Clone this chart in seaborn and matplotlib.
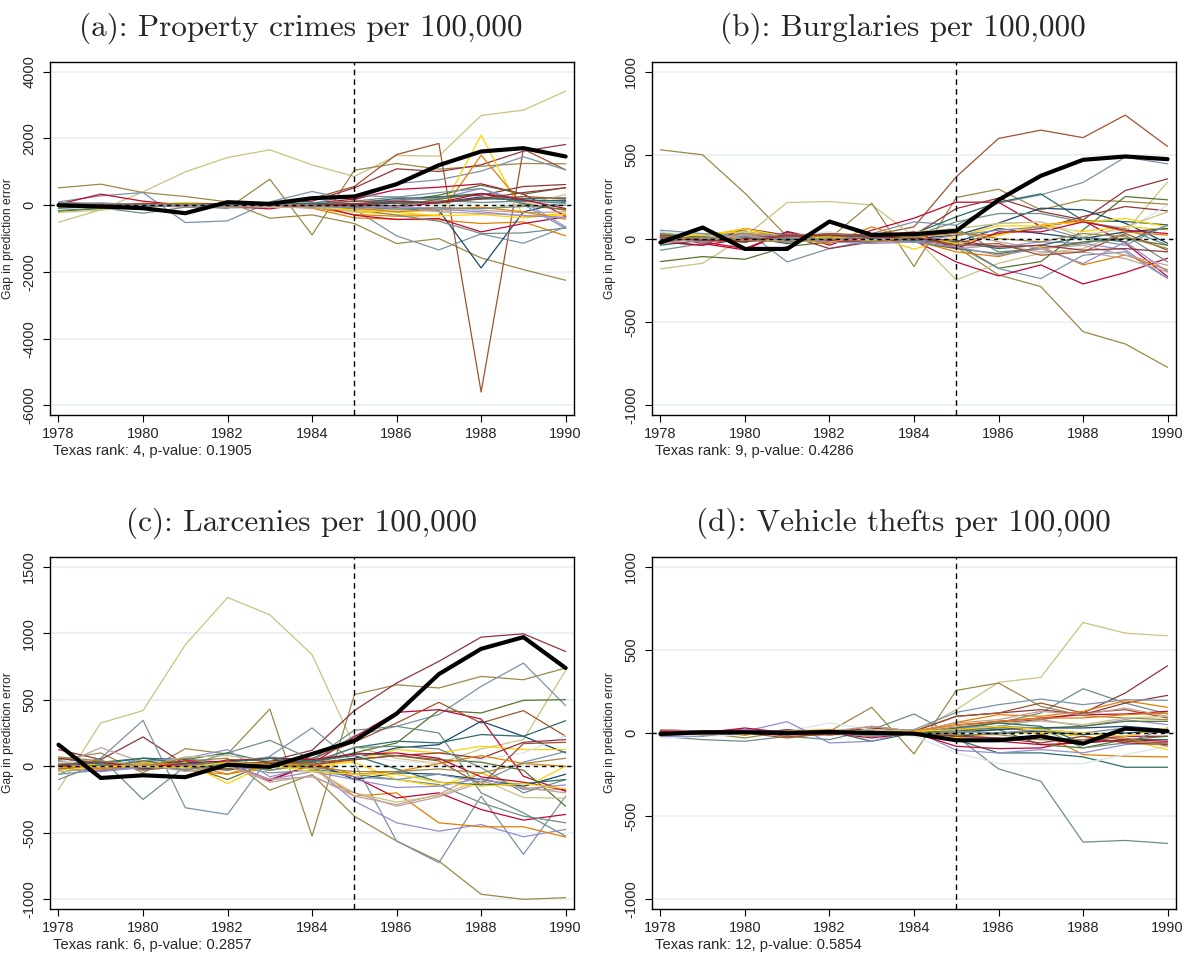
import pandas as pd
import seaborn as sns
import matplotlib.pyplot as plt

years = list(range(1978, 1991))

# Stata s2color palette
navy, maroon, forest, dkorange = "#1a476f", "#90353b", "#55752f", "#e37e00"
teal, cranberry, lavender, khaki = "#6e8e84", "#c10534", "#938dd2", "#cac27e"
sienna, emidblue, emerald, brown = "#a0522d", "#7b92a8", "#2d6d66", "#9c8847"
erose, gold, bluishgray = "#bfa19c", "#ffd200", "#d9e6eb"

# --- (a) property crimes ---
texas_prop = [0, -40, -90, -240, 90, 40, 210, 260, 630, 1200, 1610, 1710, 1460]
placebo_prop = [
    [-510, -140, 400, 1000, 1430, 1660, 1210, 860, 1490, 1470, 2690, 2850, 3420],
    [520, 630, 380, 260, 100, -390, -290, -550, -1150, -1000, -1580, -1930, -2250],
    [-20, 30, 10, 0, -100, 780, -890, 1050, 1250, 1080, 1170, 1250, 1240],
    [20, -40, 0, 30, 50, 60, 200, 560, 1520, 1850, -5600, 1680, 1060],
    [0, 30, -20, 10, 40, 60, 120, 520, 1090, 1010, 1210, 1620, 1820],
    [100, 280, 380, -520, -470, 100, 410, 150, 650, 760, 1020, 1450, 1060],
    [-60, 40, 0, -60, -80, -60, 30, -120, -920, -1340, -860, -1140, -650],
    [30, 20, 60, 40, 20, -30, -60, -200, -280, -290, 2100, -330, -250],
    [-20, 40, 20, 60, 40, 10, -60, -280, -330, -310, 1500, -20, -120],
    [10, 0, -30, 20, -40, -20, -90, -380, -420, -440, -550, -500, -920],
    [-30, 20, 40, -10, 20, 10, 40, -40, -100, -150, -1880, -200, 100],
    [30, 330, 120, 0, -40, -110, 60, 180, 470, 540, 640, 330, -330],
    [-40, -20, 10, 30, -20, 10, 30, -300, -430, -400, -800, -550, -350],
    [-160, -80, -240, -60, -30, -40, 20, -120, -300, -480, -850, -830, -680],
    [20, 60, 20, -10, 30, 0, 40, 100, 150, 240, 300, 560, 620],
    [-180, -100, 0, 30, -50, 20, 0, 60, 120, 300, 600, 330, 530],
    [50, 0, -20, 30, 20, -20, -10, 80, 140, 200, 500, 100, -650],
    [20, -30, 50, 0, 10, -10, 30, 60, 200, 250, 350, 200, 220],
    [-50, 0, 40, -20, -10, -60, -80, -150, -100, -60, -150, -220, -200],
    [60, 30, 20, 50, 0, 10, 50, 90, 30, 0, 80, 60, 40],
    [40, -20, 10, 0, -30, 20, 10, 20, 60, 80, 250, 120, 150],
    [0, 50, -10, 20, 30, -20, 60, 120, 250, 150, 80, 130, 60],
    [-220, -150, -30, 40, 20, -60, -20, -200, -170, -180, -100, 20, 320],
    [60, 20, -40, 10, -20, 30, -20, 40, -20, 180, 350, 50, -150],
    [-80, 10, 30, 80, 10, -40, -10, -150, -210, -320, -280, -380, -280],
    [-10, 40, -20, 10, 60, -30, 20, 120, 60, 100, 180, 260, 190],
    [80, 60, 20, -20, 20, 40, 60, 300, 240, 380, 500, 20, -700],
    [-90, -40, -20, -30, 40, 30, 60, 0, 100, 60, 200, 160, 120],
    [40, 10, 0, -40, -20, 30, 10, -80, -200, -120, -60, -200, -420],
    [10, -60, 30, 20, 0, -20, -40, 20, -60, 80, 350, 160, -100],
    [0, -40, -20, 20, -60, -40, 10, -80, -40, -200, -250, -300, -380],
    [-40, 0, 40, 30, 50, -10, 0, 40, 120, 80, 200, 380, 520],
    [30, -20, 0, -30, 10, 30, -40, -70, -30, -120, -200, -320, -360],
    [20, -10, 10, 40, -10, 0, -30, -60, -120, -80, -100, -40, 0],
]
colors_prop = [khaki, brown, brown, sienna, maroon, emidblue, emidblue, gold,
               dkorange, dkorange, navy, cranberry, cranberry, teal, maroon,
               forest, lavender, emerald, erose, bluishgray, navy, teal, khaki,
               forest, gold, sienna, emidblue, emerald, dkorange, cranberry,
               erose, maroon, lavender, teal]

# --- (b) burglaries ---
texas_burg = [-24, 66, -62, -62, 102, 22, 26, 46, 232, 376, 472, 492, 476]
placebo_burg = [
    [0, -10, 20, 10, 0, 20, 70, 370, 600, 650, 605, 740, 552],
    [532, 502, 272, 12, 0, -20, 0, -50, -218, -288, -558, -632, -772],
    [-182, -148, 12, 216, 222, 202, 12, -248, -148, -88, -60, 40, 340],
    [10, -20, 30, 0, 0, 212, -168, 246, 296, 172, 232, 222, 206],
    [-138, -108, -124, -48, -20, -10, -20, -30, -178, -138, 52, 252, 232],
    [20, 10, 30, 20, 10, 30, 100, 80, 212, 262, 336, 488, 448],
    [40, 0, 50, -140, -60, -10, 10, -40, -180, -240, -100, -80, -240],
    [30, -10, 20, 0, -20, 10, 30, 130, 218, 268, 108, 102, 82],
    [10, -20, -60, 40, -40, 50, 122, 218, 218, 72, 108, -28, -228],
    [20, -30, -68, 42, -10, -20, -10, -140, -224, -158, -272, -204, -118],
    [-20, -40, 60, 20, -60, -20, 20, 180, 242, 162, 112, 288, 358],
    [0, 20, 10, -10, 20, 0, -20, -30, 30, 60, 132, 192, 166],
    [10, 0, -20, 10, 0, -10, 0, 20, 92, 182, 172, 92, -28],
    [-10, 20, 0, -20, 30, 10, -10, -40, -50, -20, -28, -68, -238],
    [-30, 10, 60, 0, -30, 70, -10, -80, -108, -48, -158, -98, -188],
    [30, 20, 58, 10, -20, 20, -64, 12, 76, 76, 42, 72, 52],
    [-70, -30, 40, 10, 30, 0, 20, 100, 150, 150, 100, 60, -40],
    [10, 30, -20, 0, 10, -20, -20, -60, -40, -80, -80, -120, -200],
    [40, 20, 0, 20, 40, 0, 10, 60, 90, 100, 30, 50, 200],
    [-20, 0, 10, -30, 10, 20, 0, -20, 60, 30, 0, 40, 60],
    [30, 10, -20, 30, 0, -10, 30, 60, -80, -60, -30, 20, -140],
    [-40, -10, 10, -10, 20, 0, -10, -20, -60, -40, 10, -20, 80],
    [10, 20, 0, -20, -10, 20, 40, 60, 90, 100, 10, 70, 160],
    [0, -20, 20, 10, 20, -10, 10, 30, 20, 80, 110, 40, 20],
    [20, 10, -10, 0, -10, 20, -20, -60, -90, -60, -20, 0, -40],
    [-10, 30, 40, 0, 10, -10, 20, -30, 20, 80, 100, 120, 70],
    [-20, -40, 0, 20, -10, 10, 40, -60, 40, 40, 100, 50, 30],
    [0, -20, 30, 10, -20, -30, -20, -50, -100, -60, -150, -20, -200],
    [20, -10, -20, 10, 30, 20, 0, -40, -30, -100, -80, 30, -70],
    [50, 30, 10, 0, 0, 10, -20, 20, 50, 70, 0, -40, 80],
    [-30, 0, 20, -20, 0, -10, 10, 40, -20, -60, -40, -100, -160],
    [10, -10, -20, 20, 20, 10, 0, -10, -50, -40, -70, -60, -80],
    [-10, 10, -10, -20, 0, -20, 10, 40, 0, -20, 30, 10, -60],
]
colors_burg = [sienna, brown, khaki, brown, forest, emidblue, emidblue, emerald,
               cranberry, cranberry, maroon, maroon, navy, lavender, dkorange,
               gold, teal, erose, bluishgray, navy, teal, emerald, khaki,
               dkorange, forest, gold, cranberry, lavender, sienna, emidblue,
               erose, maroon, brown]

# --- (c) larcenies ---
texas_larc = [162, -88, -68, -82, 12, -5, 92, 192, 395, 692, 882, 970, 738]
placebo_larc = [
    [-175, 325, 418, 912, 1268, 1138, 838, 150, 60, 20, 130, 200, 720],
    [50, 100, -50, 132, 92, 430, -525, 538, 612, 588, 675, 650, 738],
    [60, 30, 20, 40, 60, -180, -62, -375, -562, -712, -962, -1000, -988],
    [125, 50, 220, 12, -20, 40, 120, 418, 625, 788, 970, 995, 862],
    [-30, 60, 345, -312, -362, 75, 288, 25, -562, -725, -225, -662, -225],
    [20, -20, 60, 50, 30, 70, 40, 230, 300, 388, 600, 775, 455],
    [0, 30, -20, 10, -100, 30, 20, 100, 175, 420, 400, 495, 500],
    [40, -30, 0, 40, 30, -110, 20, 220, 405, 425, 355, -75, -188],
    [-20, 20, 10, -30, 50, 40, 60, 180, 325, 480, 325, 418, 225],
    [-62, 62, -250, 0, 100, 195, 50, 270, 300, 250, -200, -350, -525],
    [20, -10, 30, -20, 10, -30, 20, 60, 138, 162, 338, 225, 100],
    [-10, 20, 60, 50, 100, 30, 30, 140, 188, 175, 238, 225, 342],
    [10, 0, 40, 60, 125, -80, 0, -262, -425, -488, -438, -530, -475],
    [30, 0, 10, -30, -60, 40, 0, -225, -200, -425, -455, -455, -532],
    [-20, -40, 20, 30, 20, -100, 10, -80, -238, -200, -325, -405, -362],
    [40, 20, 0, -20, 30, 10, -20, -60, -100, -138, -275, -375, -425],
    [0, 140, 30, -20, 10, -120, -70, -225, -288, -212, -50, -175, -175],
    [-10, 20, 0, 30, -130, 20, -20, 45, 125, 100, 150, 125, 125],
    [10, -20, 30, 0, 20, -30, 10, 30, -100, -150, -50, -162, 0],
    [30, 40, 10, 0, 20, -10, 20, 80, 40, 20, 50, 100, 230],
    [-30, 10, -20, 20, 0, 40, 30, -100, -50, -60, -100, -150, -60],
    [60, 20, -10, 0, -30, 20, 10, 50, 80, 100, 60, 180, 200],
    [20, -10, 40, 10, -20, -10, 30, 100, 80, 50, 30, -30, -300],
    [-40, -20, 0, 70, 80, 40, -20, -200, -270, -220, -100, -235, -240],
    [10, 40, -30, 0, 20, 30, 30, 50, 80, 40, -140, 170, 180],
    [-60, -30, 0, 10, 10, -50, -30, -80, -100, -60, -120, 30, 110],
    [0, -20, 10, 20, -60, 0, 20, -60, -40, 20, 80, 20, 0],
    [-100, 20, 0, -30, 20, -30, 20, 140, 150, 130, -10, -200, -100],
    [0, 30, -10, 20, 40, 60, 50, 90, 100, 60, -80, -120, -180],
    [-20, -40, -10, 0, 20, -100, -40, -100, -160, -150, -90, -170, -140],
    [20, -10, 20, -40, 0, -100, -80, -200, -300, -230, -120, -160, -200],
    [10, 30, 60, 20, 30, 60, 40, 80, -20, -120, -140, -130, -100],
    [70, 40, 0, 60, 0, 10, -10, -40, -40, -20, -50, 20, 60],
    [-30, 0, 0, -10, 30, 10, -40, -60, -60, -120, -150, -130, -170],
]
colors_larc = [khaki, brown, brown, maroon, emidblue, emidblue, forest,
               cranberry, sienna, teal, navy, emerald, lavender, dkorange,
               cranberry, teal, erose, gold, gold, bluishgray, navy, maroon,
               forest, khaki, sienna, emidblue, dkorange, teal, cranberry,
               lavender, erose, emerald, brown, gold]

# --- (d) vehicle thefts ---
texas_veh = [-6, 4, 4, 0, 6, 0, -4, -44, -44, -20, -64, 26, 10]
placebo_veh = [
    [0, 10, -10, 20, 10, 0, 0, 140, 304, 334, 664, 600, 584],
    [10, 0, -30, 10, 10, 154, -126, 256, 300, 160, 104, 90, 80],
    [-20, -40, -50, -20, -40, 20, 114, -20, -216, -290, -656, -646, -664],
    [10, 0, 20, 10, -10, 0, 10, 20, 60, 120, 266, 180, 114],
    [0, 10, 20, -10, 0, 10, 0, 40, 60, 80, 120, 240, 404],
    [10, 0, -10, 20, 0, 30, 10, 100, 120, 140, 110, 180, 226],
    [-20, 0, 10, 0, 0, 10, 20, 124, 170, 204, 170, 200, 196],
    [20, 10, 0, -30, 0, 40, 10, 100, 120, 180, 120, 140, 90],
    [0, 10, 0, 10, 20, 0, 0, 64, 110, 100, 130, 194, 154],
    [10, -10, 10, 0, -10, -10, 10, 10, 40, 0, -130, -140, -144],
    [0, 10, 0, -10, 10, -50, 0, -40, -120, -120, -144, -206, -206],
    [-30, -20, -10, 10, 60, 20, -20, -120, -184, -184, -184, -130, -80],
    [-20, -20, 10, 68, -60, -50, 16, -104, -120, -100, -120, -70, -60],
    [10, 0, 20, 0, 10, -10, 0, 30, 40, 80, 40, 80, 50],
    [10, 0, 30, 0, 0, -30, 0, -80, -94, -90, -40, -20, -20],
    [0, 10, 0, 10, 0, 0, 10, 40, 70, 90, 110, 114, 130],
    [0, 0, 10, 0, -10, 0, 0, -30, 0, 0, -20, -40, -100],
    [10, 0, -10, 0, 10, -20, 0, 0, 20, -70, -90, -40, -20],
    [-10, 10, 0, 10, 0, 10, 0, 20, 30, 30, 40, 70, 70],
    [0, 0, 10, 0, 0, 0, 0, 10, 20, 30, 30, 40, 20],
    [20, 10, 0, -10, 10, 40, 10, 60, 80, 130, 110, 150, 100],
    [-10, 0, -10, 0, 10, -10, 0, -20, 0, 10, -10, 0, 10],
    [0, 10, 0, 10, -10, 0, 0, 0, 40, 30, -90, -60, 30],
    [10, 0, 10, -20, -10, 0, 0, -20, -30, -40, -40, -50, -60],
    [0, -10, 0, 10, 0, 20, 10, 40, 60, 70, 50, 90, 100],
    [-10, 0, 0, 0, -10, 0, 10, -20, -30, -60, -20, -60, -70],
    [10, 0, -10, 10, 0, -20, 0, 10, 0, 20, 0, 30, 10],
    [0, -10, 10, -10, 0, 10, -10, 30, 60, 40, -60, -40, -40],
    [-10, 10, 0, 0, 10, -10, 10, 50, 70, 90, 90, 110, 120],
    [10, 10, 0, -10, 0, 0, -10, -40, -50, -70, -60, -40, -50],
    [0, 10, -10, 10, 10, 0, 10, 20, 40, 20, 0, -20, 30],
    [0, -10, 0, 0, 0, 10, 0, -10, -10, -40, -40, -30, -80],
]
colors_veh = [khaki, brown, teal, teal, maroon, maroon, emidblue, sienna,
              dkorange, dkorange, emerald, bluishgray, lavender, lavender,
              cranberry, cranberry, gold, forest, forest, navy, erose, navy,
              teal, sienna, khaki, maroon, emidblue, emerald, dkorange,
              cranberry, gold, brown]

titles = ["(a): Property crimes per 100,000", "(b): Burglaries per 100,000",
          "(c): Larcenies per 100,000", "(d): Vehicle thefts per 100,000"]
notes = ["Texas rank: 4, p-value: 0.1905", "Texas rank: 9, p-value: 0.4286",
         "Texas rank: 6, p-value: 0.2857", "Texas rank: 12, p-value: 0.5854"]

sns.set_theme(style="white")
plt.rcParams["font.family"] = ["Liberation Sans", "DejaVu Sans"]
plt.rcParams["axes.unicode_minus"] = False


def to_long(lines):
    rows = []
    for i, vals in enumerate(lines):
        for yr, v in zip(years, vals):
            rows.append({"unit": f"s{i:02d}", "year": yr, "gap": v})
    return pd.DataFrame(rows)


def draw(ax, texas, placebos, colors, title, note, yticks):
    df = to_long(placebos)
    pal = {f"s{i:02d}": c for i, c in enumerate(colors)}
    sns.lineplot(data=df, x="year", y="gap", hue="unit", palette=pal,
                 estimator=None, sort=False, lw=0.9, legend=False, ax=ax,
                 zorder=2)
    ax.axhline(0, color="black", lw=1.0, ls=(0, (3, 3)), zorder=3)
    ax.axvline(1985, color="black", lw=1.0, ls=(0, (4, 3)), zorder=3)
    tx = pd.DataFrame({"year": years, "gap": texas})
    sns.lineplot(data=tx, x="year", y="gap", color="black", lw=3.0, ax=ax,
                 zorder=4)

    lo, hi = yticks[0], yticks[-1]
    pad = 0.029 * (hi - lo)
    ax.set_ylim(lo - pad, hi + pad)
    ax.set_xlim(1977.8, 1990.2)
    ax.set_xticks(range(1978, 1991, 2))
    ax.set_yticks(yticks)
    ax.yaxis.grid(True, color="#e8f0f2", lw=1.2)
    ax.set_axisbelow(True)
    for s in ax.spines.values():
        s.set_color("black")
        s.set_linewidth(1.0)
    ax.tick_params(axis="both", direction="out", length=5, width=0.8,
                   labelsize=10.5, color="black", left=True, bottom=True)
    ax.tick_params(axis="y", pad=5)
    for lab in ax.get_yticklabels():
        lab.set_rotation(90)
        lab.set_va("center")
    ax.set_xlabel("")
    ax.set_ylabel("Gap in prediction error", fontsize=8.7)
    ax.yaxis.set_label_coords(-0.068, 0.5)
    ax.set_title(title, fontfamily="cmr10", fontsize=22.5, pad=19, x=0.479)
    ax.text(0.005, -0.102, note, transform=ax.transAxes, fontsize=10.6,
            va="center", ha="left")


fig = plt.figure(figsize=(11.83, 9.55), dpi=100)
ax_a = fig.add_axes([0.0423, 0.5654, 0.443, 0.3696])
ax_b = fig.add_axes([0.5511, 0.5654, 0.4430, 0.3696])
ax_c = fig.add_axes([0.0423, 0.0482, 0.443, 0.3686])
ax_d = fig.add_axes([0.5511, 0.0482, 0.4430, 0.3686])

draw(ax_a, texas_prop, placebo_prop, colors_prop, titles[0], notes[0],
     list(range(-6000, 4001, 2000)))
draw(ax_b, texas_burg, placebo_burg, colors_burg, titles[1], notes[1],
     list(range(-1000, 1001, 500)))
draw(ax_c, texas_larc, placebo_larc, colors_larc, titles[2], notes[2],
     list(range(-1000, 1501, 500)))
draw(ax_d, texas_veh, placebo_veh, colors_veh, titles[3], notes[3],
     list(range(-1000, 1001, 500)))

fig.savefig("out.png", dpi=100)
